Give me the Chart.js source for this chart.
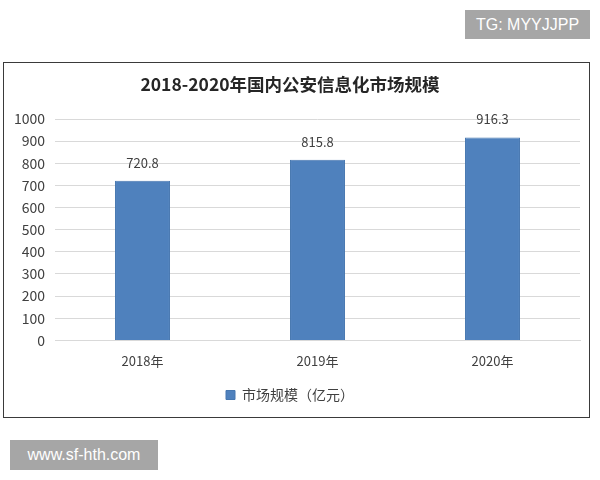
<!DOCTYPE html>
<html>
<head>
<meta charset="utf-8">
<script src="https://cdn.jsdelivr.net/npm/chart.js@4.4.0/dist/chart.umd.min.js"></script>
<style>
  body { margin: 0; background: #fff; }
  #wrap { position: relative; width: 600px; height: 480px; }
  #frame { position: absolute; left: 3px; top: 62px; width: 585px; height: 354px; border: 1.5px solid #3a3a3a; }
  canvas { position: absolute; left: 0; top: 0; }
  .mark { position: absolute; background: #a6a6a6; color: #fff; font-family: "Liberation Sans", Arial, sans-serif; font-size: 16px; text-align: center; }
</style>
</head>
<body>
<div id="wrap">
  <div id="frame"></div>
  <canvas id="chart" width="600" height="480"></canvas>
  <div class="mark" style="left:465px;top:10px;width:125px;height:29px;line-height:29px;">TG: MYYJJPP</div>
  <div class="mark" style="left:10px;top:440px;width:148px;height:30px;line-height:30px;">www.sf-hth.com</div>
</div>
<script>
// data
const years = ['2018年', '2019年', '2020年'];
const marketSize = [720.8, 815.8, 916.3];
const seriesName = '市场规模（亿元）';
const chartTitle = '2018-2020年国内公安信息化市场规模';

const fontFamily = '"Noto Sans CJK SC", "Liberation Sans", sans-serif';
const textColor = '#404040';

// value labels above bars
const barLabels = {
    id: 'barLabels',
    afterDatasetsDraw(chart) {
        const ctx = chart.ctx;
        ctx.save();
        ctx.font = '13px ' + fontFamily;
        ctx.fillStyle = textColor;
        ctx.textAlign = 'center';
        ctx.textBaseline = 'middle';
        chart.getDatasetMeta(0).data.forEach((bar, i) => {
            ctx.fillText(marketSize[i].toFixed(1), bar.x, bar.y - 18);
        });
        ctx.restore();
    }
};

new Chart(document.getElementById('chart'), {
    type: 'bar',
    data: {
        labels: years,
        datasets: [{
            label: seriesName,
            data: marketSize,
            backgroundColor: '#4f81bd',
            borderColor: '#4677b0',
            borderWidth: 1,
            categoryPercentage: 1,
            barPercentage: 0.314
        }]
    },
    options: {
        responsive: false,
        animation: false,
        layout: { padding: { left: 0, right: 20, top: 62, bottom: 68 } },
        plugins: {
            title: {
                display: true,
                text: chartTitle,
                color: '#262626',
                font: { family: fontFamily, size: 17.5, weight: 'bold' },
                padding: { top: 12, bottom: 24 }
            },
            legend: {
                position: 'bottom',
                labels: {
                    color: textColor,
                    font: { family: fontFamily, size: 14 },
                    boxWidth: 9,
                    boxHeight: 9,
                    padding: 14
                }
            },
            tooltip: { enabled: false }
        },
        scales: {
            x: {
                grid: { display: false },
                border: { display: true, color: '#d9d9d9' },
                ticks: { color: textColor, font: { family: fontFamily, size: 13 }, padding: 5 }
            },
            y: {
                min: 0,
                max: 1000,
                afterFit(scale) { scale.width = 55; },
                grid: { color: '#d9d9d9', drawTicks: false },
                border: { display: false },
                ticks: {
                    stepSize: 100,
                    color: textColor,
                    font: { family: fontFamily, size: 14 },
                    padding: 10,
                    callback: v => String(v)
                }
            }
        }
    },
    plugins: [barLabels]
});
</script>
</body>
</html>
